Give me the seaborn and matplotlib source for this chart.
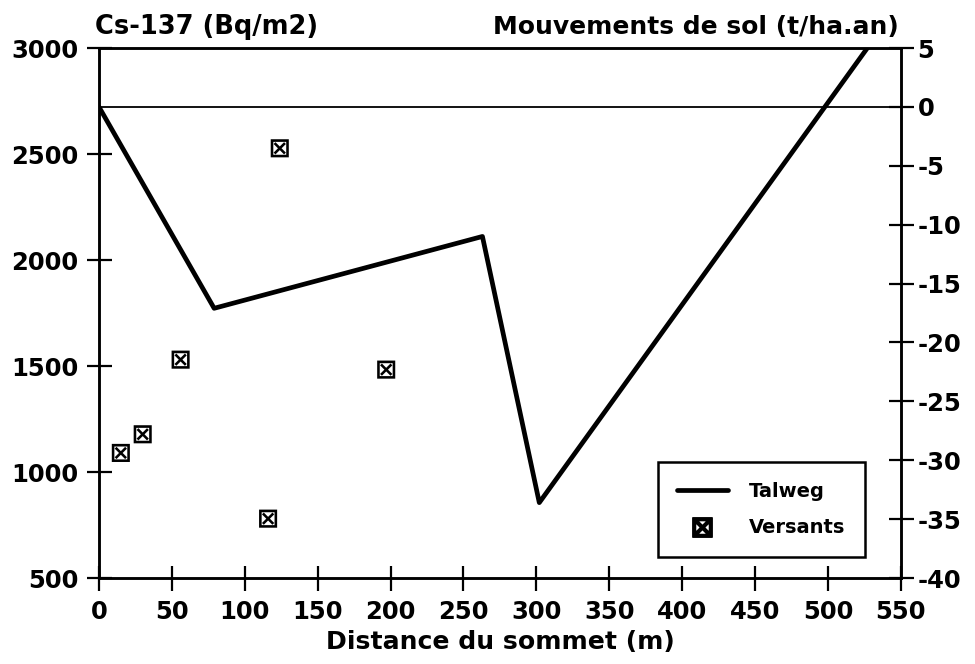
import pandas as pd
import matplotlib
matplotlib.use("Agg")
import matplotlib.pyplot as plt
import seaborn as sns
from matplotlib.lines import Line2D

# Talweg : mouvements de sol (axe de droite)
talweg_dist = [0, 79, 263, 302, 527]
talweg_mvt = [0, -17.1, -11.0, -33.6, 5]

# Versants : Cs-137 (axe de gauche)
versants_dist = [15, 30, 56, 116, 124, 197]
versants_cs = [1090, 1178, 1530, 780, 2527, 1483]

sns.set_style("ticks")
plt.rcParams["font.family"] = ["DejaVu Sans"]
plt.rcParams["font.weight"] = "bold"
plt.rcParams["font.size"] = 17
plt.rcParams["axes.unicode_minus"] = False
for k in ("text.color", "axes.labelcolor", "xtick.color", "ytick.color"):
    plt.rcParams[k] = "black"

talweg = pd.DataFrame({"dist": talweg_dist, "mvt": talweg_mvt})
versants = pd.DataFrame({"dist": versants_dist, "cs": versants_cs})

fig = plt.figure(figsize=(9.75, 6.64), dpi=100)
ax = fig.add_axes([0.1015, 0.1295, 0.8225, 0.7982])
ax2 = ax.twinx()

sns.scatterplot(data=versants, x="dist", y="cs", ax=ax, marker=r"$\boxtimes$",
                s=170, color="black", edgecolor="none", legend=False)
sns.lineplot(data=talweg, x="dist", y="mvt", ax=ax2, color="black", lw=3.4,
             legend=False)
ax2.axhline(0, color="black", lw=1.3)

ax.set_xlim(0, 548)
ax.set_ylim(500, 3000)
ax2.set_ylim(-40, 5)
ax.set_xticks(range(0, 551, 50))
ax.set_yticks(range(500, 3001, 500))
ax2.set_yticks(range(-40, 6, 5))

for a in (ax, ax2):
    for s in a.spines.values():
        s.set_linewidth(1.8)
        s.set_color("black")
    a.tick_params(direction="inout", length=18, width=1.6, labelsize=17.5, pad=6)
ax.tick_params(axis="x", pad=7)
ax2.tick_params(axis="y", pad=3)

ax.set_xlabel("Distance du sommet (m)", fontsize=18.1, fontweight="bold", labelpad=4)
ax.set_ylabel("")
ax2.set_ylabel("")
ax.set_title("Cs-137 (Bq/m2)", loc="left", fontsize=18.5, fontweight="bold",
             x=-0.005, pad=10)
ax2.set_title("Mouvements de sol (t/ha.an)", loc="right", fontsize=18,
              fontweight="bold", x=0.997, pad=10)

handles = [Line2D([], [], color="black", lw=3.4),
           Line2D([], [], color="black", ls="none", marker=r"$\boxtimes$", markersize=14)]
leg = ax2.legend(handles, ["Talweg", "Versants"], loc="lower right",
                 bbox_to_anchor=(0.955, 0.04), fancybox=False, edgecolor="black",
                 framealpha=1, borderpad=1.0, labelspacing=0.9, handlelength=2.6,
                 handletextpad=1.1, borderaxespad=0, prop={"weight": "bold", "size": 14})
leg.get_frame().set_linewidth(1.8)

fig.savefig("out.png", dpi=100)
